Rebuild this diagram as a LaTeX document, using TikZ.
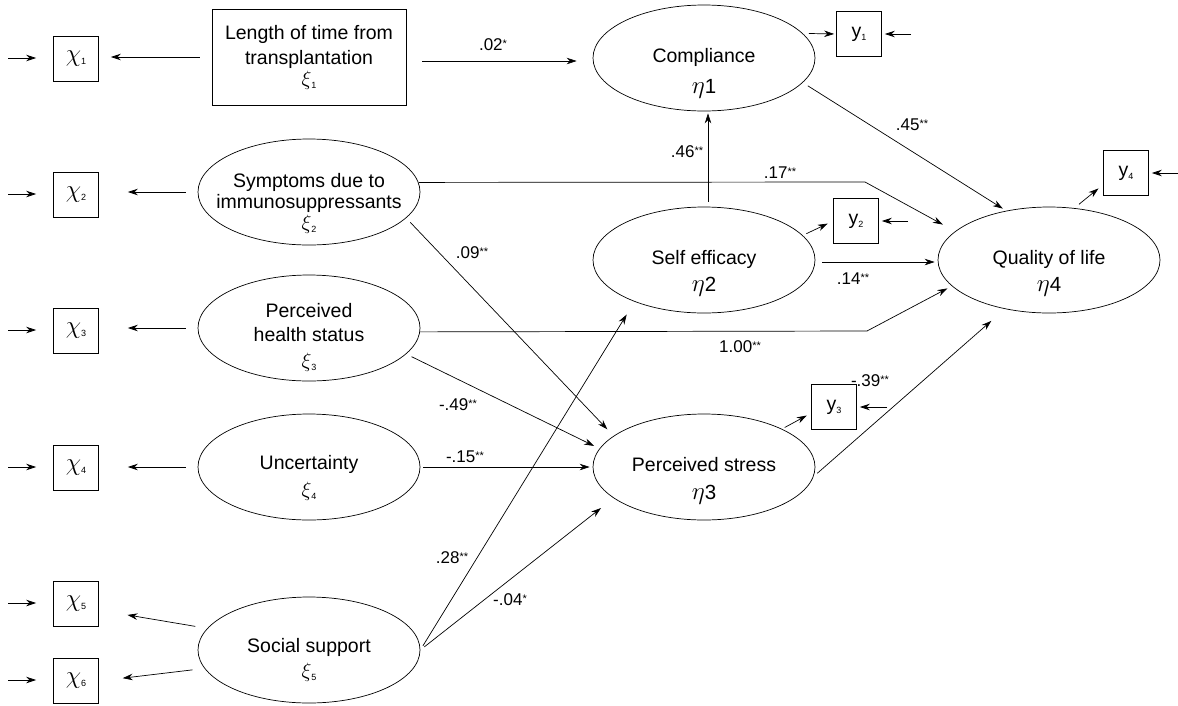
\documentclass[tikz,border=0pt]{standalone}
\usepackage{fontspec}
\setmainfont{Liberation Sans}
\usetikzlibrary{shapes.geometric,arrows.meta}
\newcommand\gsub[1]{\raisebox{-3pt}{\fontsize{9}{9}\selectfont #1}}
\newcommand\gxi[1]{{\fontsize{21}{21}\selectfont$\xi$}\gsub{#1}}
\newcommand\geta[1]{{\fontsize{24}{24}\selectfont$\eta$}{\fontsize{20.5}{21}\selectfont #1}}
\newcommand\gchi[1]{{\fontsize{24}{24}\selectfont$\chi$}\gsub{#1}}
\newcommand\gy[1]{y\gsub{#1}}
\newcommand\st[1]{\raisebox{3.5pt}{\fontsize{11}{11}\selectfont #1}}
\begin{document}
\begin{tikzpicture}[x=1pt,y=-1pt,
  font=\fontsize{19.5}{21}\selectfont,
  line width=0.7pt,
  arr/.style={-{Stealth[length=10pt,width=6.5pt]}},
  lat/.style={ellipse, draw, minimum width=222pt, minimum height=106pt, inner sep=0pt},
  obs/.style={rectangle, draw, minimum width=45pt, minimum height=45pt, inner sep=0pt},
  ttl/.style={align=center, inner sep=0pt},
  coef/.style={font=\fontsize{17}{20}\selectfont, inner sep=0pt},
]
\useasboundingbox (0,0) rectangle (1178,705);

% observed x
\node[obs] (x1) at (76,59) {\gchi{1}};
\node[obs] (x2) at (76,195) {\gchi{2}};
\node[obs] (x3) at (76,331) {\gchi{3}};
\node[obs] (x4) at (76,468) {\gchi{4}};
\node[obs] (x5) at (76,604) {\gchi{5}};
\node[obs] (x6) at (76,681) {\gchi{6}};
\coordinate (in1) at (8,58);
\coordinate (in2) at (8,194);
\coordinate (in3) at (8,330);
\coordinate (in4) at (8,467);
\coordinate (in5) at (8,603);
\coordinate (in6) at (8,680);

% exogenous
\node[draw, minimum width=194pt, minimum height=96pt, inner sep=0pt] (xi1) at (309,57) {};
\node[ttl, yshift=0pt] (xi1t) at (xi1) {Length of time from\\[4pt]transplantation\\[0pt]\gxi{1}};
\node[lat] (xi2) at (309,192) {};
\node[ttl, yshift=-11.9pt] (xi2t) at (xi2) {Symptoms due to\\immunosuppressants\\[0pt]\gxi{2}};
\node[lat] (xi3) at (309,328) {};
\node[ttl, yshift=-9.6pt] (xi3t) at (xi3) {Perceived\\[3pt]health status\\[5pt]\gxi{3}};
\node[lat] (xi4) at (309,467) {};
\node[ttl, yshift=-11.4pt] (xi4t) at (xi4) {Uncertainty\\[6pt]\gxi{4}};
\node[lat] (xi5) at (309,650) {};
\node[ttl, yshift=-10.4pt] (xi5t) at (xi5) {Social support\\[4pt]\gxi{5}};

% endogenous
\node[lat] (eta1) at (704,58) {};
\node[ttl, yshift=-15.6pt] (eta1t) at (eta1) {Compliance\\[10pt]\geta{1}};
\node[lat] (eta2) at (704,260) {};
\node[ttl, yshift=-13.6pt] (eta2t) at (eta2) {Self efficacy\\[6pt]\geta{2}};
\node[lat] (eta3) at (704,467) {};
\node[ttl, yshift=-14pt] (eta3t) at (eta3) {Perceived stress\\[7pt]\geta{3}};
\node[lat] (eta4) at (1049,260) {};
\node[ttl, yshift=-13.6pt] (eta4t) at (eta4) {Quality of life\\[6pt]\geta{4}};

% observed y
\node[obs] (y1) at (859,34) {\gy{1}};
\node[obs] (y2) at (856,221) {\gy{2}};
\node[obs] (y3) at (834,407) {\gy{3}};
\node[obs] (y4) at (1126,173) {\gy{4}};
\coordinate (iy1) at (911,34);
\coordinate (iy2) at (908,221);
\coordinate (iy3) at (887,407);
\coordinate (iy4) at (1178,173);

% error arrows into indicators
\foreach \i in {1,...,6} {\draw[arr, shorten >=17pt] (in\i) -- (in\i -| x\i.west);}
\foreach \i in {1,...,4} {\draw[arr, shorten >=3pt] (iy\i) -- (y\i.east);}

% loadings on x
\draw[arr, shorten <=12pt, shorten >=12pt] (xi1.west) -- (xi1.west -| x1.east);
\draw[arr, shorten <=12pt, shorten >=29pt] (xi2.west) -- (xi2.west -| x2.east);
\draw[arr, shorten <=12pt, shorten >=29pt] (xi3.west) -- (xi3.west -| x3.east);
\draw[arr, shorten <=12pt, shorten >=29pt] (xi4.west) -- (xi4.west -| x4.east);
\draw[arr, shorten <=12pt, shorten >=29pt] (xi5.168) -- (x5.-15);
\draw[arr, shorten <=12pt, shorten >=24pt] (xi5.190) -- (x6.east);

% loadings on y
\draw[arr, shorten <=6pt, shorten >=2pt] (eta1.14) -- (y1.west);
\draw[arr, shorten <=4pt, shorten >=6pt] (eta2.14) -- (y2.west);
\draw[arr, shorten <=3pt, shorten >=5pt] (eta3.26) -- (y3.195);
\draw[arr, shorten <=6pt, shorten >=6pt] (eta4.64) -- (y4.207);

% structural paths
\draw[arr, shorten <=16pt, shorten >=16pt] (xi1.east |- 0,61) -- (eta1.west |- 0,61);
\draw[arr, shorten <=5pt, shorten >=2pt] (eta2.north -| 708,0) -- (eta1.south -| 708,0);
\draw[arr, shorten <=6pt, shorten >=4pt] (eta1.-14) -- (eta4.131);
\coordinate (k17) at (865,182);
\draw[arr, shorten >=14pt] (xi2.5) -- (k17) -- (eta4.163);
\draw[arr, shorten <=6pt, shorten >=9pt] (xi2.-15) -- (eta3.161);
\coordinate (k100) at (867,331);
\draw[arr, shorten >=5pt] (xi3.-2) -- (k100) -- (eta4.195);
\draw[arr, shorten <=6pt, shorten >=6pt] (xi3.-15) -- (eta3.170);
\draw[arr, shorten <=3pt, shorten >=3pt] (xi4.east) -- (eta3.west);
\draw[arr, shorten <=5pt, shorten >=15pt] (xi5.east) -- (eta2.211);
\draw[arr, shorten <=5pt, shorten >=16pt] (xi5.east) -- (eta3.199);
\draw[arr, shorten <=7pt, shorten >=3pt] (eta2.east |- 0,262) -- (eta4.west |- 0,262);
\draw[arr, shorten <=5pt, shorten >=18pt] (eta3.-5) -- (eta4.228);

% coefficients
\node[coef] (c02) at (493,45) {.02\st{*}};
\node[coef] (c46) at (687,152) {.46\st{**}};
\node[coef] (c17) at (780,173) {.17\st{**}};
\node[coef] (c45) at (912,125) {.45\st{**}};
\node[coef] (c09) at (472,253) {.09\st{**}};
\node[coef] (c14) at (853,279) {.14\st{**}};
\node[coef] (c100) at (740,347) {1.00\st{**}};
\node[coef] (c49) at (458,405) {-.49\st{**}};
\node[coef] (c15) at (465,457) {-.15\st{**}};
\node[coef] (c39) at (870,381) {-.39\st{**}};
\node[coef] (c28) at (452,558) {.28\st{**}};
\node[coef] (c04) at (510,600) {-.04\st{*}};
\end{tikzpicture}
\end{document}
